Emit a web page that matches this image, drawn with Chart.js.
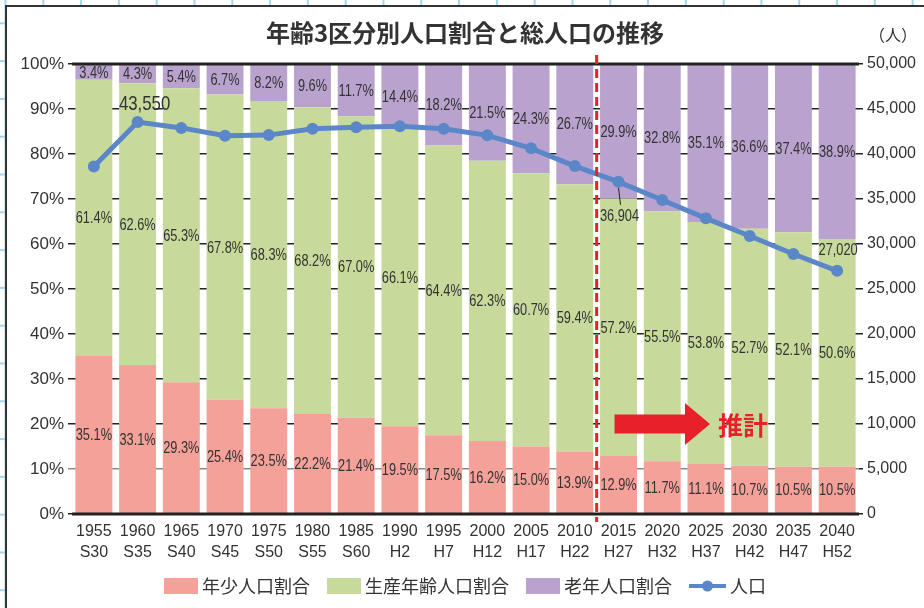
<!DOCTYPE html>
<html>
<head>
<meta charset="utf-8">
<script src="https://cdn.jsdelivr.net/npm/chart.js@4/dist/chart.umd.min.js"></script>
<style>
  html, body { margin: 0; padding: 0; }
  body {
    width: 924px; height: 608px; overflow: hidden; position: relative; background: #fff;
    background-image: linear-gradient(to right, #9fd6f2 2px, transparent 2px),
                      linear-gradient(to bottom, #9fd6f2 2px, transparent 2px);
    background-size: 37.8px 37.8px;
    background-position: 4.5px 22.3px;
  }
  #panel {
    position: absolute; left: 5px; top: 5px; width: 940px; height: 640px;
    background: #fff; border-left: 2px solid #333; border-top: 2px solid #333;
  }
  #chart { position: absolute; left: 0; top: 0; }
</style>
</head>
<body>
<div id="panel"></div>
<canvas id="chart" width="924" height="608"></canvas>
<script>
// ===== DATA =====
const years = ['1955', '1960', '1965', '1970', '1975', '1980', '1985', '1990', '1995',
  '2000', '2005', '2010', '2015', '2020', '2025', '2030', '2035', '2040'];
const eras = ['S30', 'S35', 'S40', 'S45', 'S50', 'S55', 'S60', 'H2', 'H7',
  'H12', 'H17', 'H22', 'H27', 'H32', 'H37', 'H42', 'H47', 'H52'];

const youngShare = [35.1, 33.1, 29.3, 25.4, 23.5, 22.2, 21.4, 19.5, 17.5,
  16.2, 15.0, 13.9, 12.9, 11.7, 11.1, 10.7, 10.5, 10.5];
const workingShare = [61.4, 62.6, 65.3, 67.8, 68.3, 68.2, 67.0, 66.1, 64.4,
  62.3, 60.7, 59.4, 57.2, 55.5, 53.8, 52.7, 52.1, 50.6];
const elderlyShare = [3.4, 4.3, 5.4, 6.7, 8.2, 9.6, 11.7, 14.4, 18.2,
  21.5, 24.3, 26.7, 29.9, 32.8, 35.1, 36.6, 37.4, 38.9];
const population = [38600, 43550, 42900, 42030, 42100, 42800, 42960, 43070, 42800,
  42070, 40630, 38660, 36904, 34890, 32850, 30890, 28890, 27020];

const labeledPoints = [1, 12, 17];   // population points that carry a value label
const estimateFrom = 12;             // first projected year (2015)

const NUM = '"Liberation Sans", Arial, sans-serif';
const JP = '"Noto Sans CJK JP", sans-serif';
const TXT = '#333';

// narrow-looking numbers: squeeze a normal face horizontally
function narrowText(ctx, txt, x, y, size, k) {
  ctx.save();
  ctx.font = size + 'px ' + NUM;
  ctx.translate(x, y);
  ctx.scale(k || 0.8, 1);
  ctx.fillText(txt, 0, 0);
  ctx.restore();
}

// ===== PLUGIN: labels, marker line, arrow, title, legend =====
const decor = {
  id: 'decor',
  afterDatasetDraw(chart, args) {
    if (args.meta.type !== 'bar') return;
    const { ctx, chartArea: a } = chart;
    const vals = chart.data.datasets[args.index].data;
    ctx.save();
    ctx.fillStyle = TXT;
    ctx.textAlign = 'center';
    ctx.textBaseline = 'middle';
    args.meta.data.forEach((bar, i) => {
      const top = Math.max(bar.y, a.top);
      narrowText(ctx, vals[i].toFixed(1) + '%', bar.x, (top + bar.base) / 2 + 1, 16);
    });
    ctx.restore();
  },
  afterDatasetsDraw(chart) {
    const { ctx, chartArea: a, scales: { x, y } } = chart;
    ctx.save();

    // heavy rules at 0% and 100%
    ctx.strokeStyle = '#222';
    ctx.lineWidth = 3;
    ctx.beginPath();
    ctx.moveTo(a.left, a.top); ctx.lineTo(a.right, a.top);
    ctx.moveTo(a.left, a.bottom); ctx.lineTo(a.right, a.bottom);
    ctx.stroke();

    // dashed divider between actual and projected
    const dx = (x.getPixelForValue(estimateFrom - 1) + x.getPixelForValue(estimateFrom)) / 2;
    ctx.strokeStyle = '#e8202a';
    ctx.lineWidth = 3;
    ctx.setLineDash([9, 5]);
    ctx.beginPath();
    ctx.moveTo(dx, a.top - 9); ctx.lineTo(dx, a.bottom + 8);
    ctx.stroke();
    ctx.setLineDash([]);

    // arrow + 推計
    const cy = y.getPixelForValue(20);
    const x0 = x.getPixelForValue(estimateFrom) - 4;
    const tip = x.getPixelForValue(estimateFrom + 2) + 4;
    const hb = tip - 25;
    ctx.fillStyle = '#e8202a';
    ctx.beginPath();
    ctx.moveTo(x0, cy - 9.5); ctx.lineTo(hb, cy - 9.5); ctx.lineTo(hb, cy - 21);
    ctx.lineTo(tip, cy); ctx.lineTo(hb, cy + 21); ctx.lineTo(hb, cy + 9.5);
    ctx.lineTo(x0, cy + 9.5); ctx.closePath();
    ctx.fill();
    ctx.font = 'bold 25px ' + JP;
    ctx.textAlign = 'left';
    ctx.textBaseline = 'middle';
    ctx.fillText('推計', tip + 8, cy + 1);

    // population value labels
    const pts = chart.getDatasetMeta(3).data;
    ctx.fillStyle = TXT;
    ctx.textAlign = 'center';
    labeledPoints.forEach(i => {
      const p = pts[i];
      const txt = population[i].toLocaleString('en-US');
      if (i === 1) {
        narrowText(ctx, txt, p.x + 7, p.y - 18, 21);
      } else if (i === estimateFrom) {
        ctx.strokeStyle = '#222';
        ctx.lineWidth = 1;
        ctx.beginPath();
        ctx.moveTo(p.x, p.y + 6); ctx.lineTo(p.x + 2, p.y + 23);
        ctx.stroke();
        narrowText(ctx, txt, p.x + 1, p.y + 35, 16);
      } else {
        narrowText(ctx, txt, p.x + 1, p.y - 20, 16);
      }
    });
    ctx.restore();
  },
  afterDraw(chart) {
    const { ctx } = chart;
    ctx.save();
    ctx.fillStyle = TXT;
    ctx.textBaseline = 'middle';

    // title
    ctx.font = 'bold 24px ' + JP;
    ctx.textAlign = 'center';
    ctx.fillText('年齢3区分別人口割合と総人口の推移', 465, 33);

    // right axis unit
    ctx.font = '16px ' + JP;
    ctx.fillText('（人）', 893, 35);

    // legend
    ctx.font = '18px ' + JP;
    ctx.textAlign = 'left';
    const items = chart.data.datasets.map(ds => ({
      label: ds.label, color: ds.backgroundColor, line: ds.type === 'line', stroke: ds.borderColor
    }));
    const sw = 34, gap = 4, sep = 17;
    let total = 0;
    items.forEach((it, k) => {
      it.w = (it.line ? 37 : sw) + gap + ctx.measureText(it.label).width;
      total += it.w + (k ? sep : 0);
    });
    let lx = 465 - total / 2;
    const ly = 586;
    items.forEach(it => {
      if (it.line) {
        ctx.strokeStyle = it.stroke;
        ctx.lineWidth = 4;
        ctx.beginPath();
        ctx.moveTo(lx, ly); ctx.lineTo(lx + 37, ly);
        ctx.stroke();
        ctx.fillStyle = it.stroke;
        ctx.beginPath();
        ctx.arc(lx + 18.5, ly, 5.5, 0, Math.PI * 2);
        ctx.fill();
        lx += 37 + gap;
      } else {
        ctx.fillStyle = it.color;
        ctx.fillRect(lx, ly - 8, sw, 16);
        lx += sw + gap;
      }
      ctx.fillStyle = TXT;
      ctx.fillText(it.label, lx, ly);
      lx += ctx.measureText(it.label).width + sep;
    });
    ctx.restore();
  }
};

// ===== CHART =====
const barBase = { type: 'bar', order: 1, barPercentage: 0.845, categoryPercentage: 1, yAxisID: 'y', borderWidth: 0 };

new Chart(document.getElementById('chart'), {
  data: {
    labels: years.map((yr, i) => [yr, eras[i]]),
    datasets: [
      { ...barBase, label: '年少人口割合', data: youngShare, backgroundColor: '#f4a19a' },
      { ...barBase, label: '生産年齢人口割合', data: workingShare, backgroundColor: '#c8da9b' },
      { ...barBase, label: '老年人口割合', data: elderlyShare, backgroundColor: '#b9a3ce' },
      {
        type: 'line', order: 0, label: '人口', data: population, yAxisID: 'y2',
        borderColor: '#5b87c9', backgroundColor: '#5b87c9', borderWidth: 5,
        pointRadius: 6, pointBackgroundColor: '#5b87c9', pointBorderWidth: 0, tension: 0
      }
    ]
  },
  options: {
    responsive: false,
    animation: false,
    devicePixelRatio: 1,
    layout: { padding: { top: 64, left: 0, right: 0, bottom: 0 } },
    plugins: { legend: { display: false }, tooltip: { enabled: false } },
    scales: {
      x: {
        stacked: true,
        grid: { display: false, drawTicks: false },
        border: { display: false },
        ticks: { font: { size: 16, family: NUM, lineHeight: 1.3 }, color: TXT, padding: 7, maxRotation: 0, autoSkip: false },
        afterFit(s) { s.height = 94; }
      },
      y: {
        stacked: true, position: 'left', min: 0, max: 100,
        ticks: { stepSize: 10, callback: v => v + '%', font: { size: 17, family: NUM }, color: TXT, padding: 4 },
        grid: {
          color: c => (c.tick && c.tick.value === 10 ? '#8a8a8a' : '#222'),
          lineWidth: 1.5, tickLength: 4
        },
        border: { display: false },
        afterFit(s) { s.width = 72; }
      },
      y2: {
        position: 'right', min: 0, max: 50000,
        ticks: { stepSize: 5000, callback: v => v.toLocaleString('en-US'), font: { size: 16, family: NUM }, color: TXT, padding: 4 },
        grid: { drawOnChartArea: false, tickLength: 4, color: '#222', lineWidth: 1.5 },
        border: { display: false },
        afterFit(s) { s.width = 65; }
      }
    }
  },
  plugins: [decor]
});
</script>
</body>
</html>
